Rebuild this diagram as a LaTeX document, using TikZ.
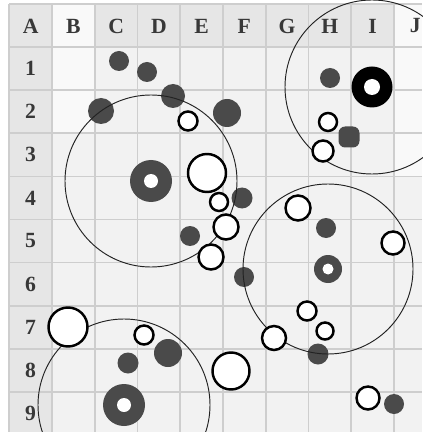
\documentclass[tikz,border=0pt]{standalone}
\usepackage{fontspec}
\setmainfont{Liberation Serif}
\definecolor{boardPaper}{RGB}{242,242,242}
\definecolor{boardHeader}{RGB}{230,230,230}
\definecolor{boardGrid}{RGB}{206,206,206}
\definecolor{boardInk}{RGB}{56,56,56}
\definecolor{boardDot}{RGB}{74,74,74}
\definecolor{boardLine}{RGB}{34,34,34}
\begin{document}
\begin{tikzpicture}[x=.03cm,y=-.03cm,
      heading/.style={font=\fontsize{18.5}{20}\selectfont\bfseries,
        text=boardInk},
      gridline/.style={draw=boardGrid, line width=1.4pt},
      reach/.style={draw=boardLine, line width=.8pt},
      stone/.style={fill=boardDot},
      hole/.style={draw=black, fill=white, line width=2.1pt}]
      \useasboundingbox (0,0) rectangle (422,432);
      \fill[white] (0,0) rectangle (422,432);
      \fill[boardPaper] (9.25,4) rectangle (422,432);
      \fill[boardHeader] (9.25,4) rectangle (52,432);
      \fill[boardHeader] (9.25,4) rectangle (422,47);
      \fill[white!50!boardPaper] (52,4) rectangle (95,133);
      \fill[white!50!boardPaper] (394,4) rectangle (422,177);

      \foreach \i in {0,...,9}
        \draw[gridline] ({9.25+42.75*\i},4) -- ++(0,428);
      \foreach \j in {0,...,9}
        \draw[gridline] (9.25,{4+43.1*\j}) -- (422,{4+43.1*\j});

      \foreach[count=\i from 0] \c in {A,B,C,D,E,F,G,H,I,J}
        \node[heading] (col\c) at ({30.6+42.75*\i},26) {\c};
      \foreach \r in {1,...,9}
        \node[heading] (row\r) at (30.6,{25.5+43.1*\r}) {\r};

      \foreach \x/\y/\s in {119/61/10,147/72/10,173/96/12,101/111/13,
          227/113/14,330/78/10,242/198/10.5,190/236/10,326/228/10,
          244/277/10,318/354/10.5,168/353/14,128/363/10.5,394/404/10}
        \fill[stone] (\x,\y) circle (\s);
      \fill[stone, rounded corners=.2cm] (338.5,126.5) rectangle ++(21,21);

      \foreach \x/\y/\s/\h in {151/181/21/7,124/405/21/7,328/269/14/5.5}{
        \fill[stone] (\x,\y) circle (\s);
        \fill[white] (\x,\y) circle (\h);}
      \fill[black] (372,87) circle (20.5);
      \fill[white] (372,87) circle (8);

      \draw[reach] (151,181) circle (86);
      \draw[reach] (372,87) circle (87);
      \draw[reach] (328,269) circle (85);
      \draw[reach] (124,405) circle (86);

      \foreach \x/\y/\s in {188/121/9.5,207/173/19,219/202/9,226/227/12.5,
          211/257/12.5,298/208/12.5,328/122/9,323/151/10.5,393/243/11.5,
          307/311/9.5,325/331/8.5,274/338/12,231/371/18.5,368/398/11.5,
          68/327/19.5,144/335/9.5}
        \path[hole] (\x,\y) circle (\s);
    \end{tikzpicture}
\end{document}
